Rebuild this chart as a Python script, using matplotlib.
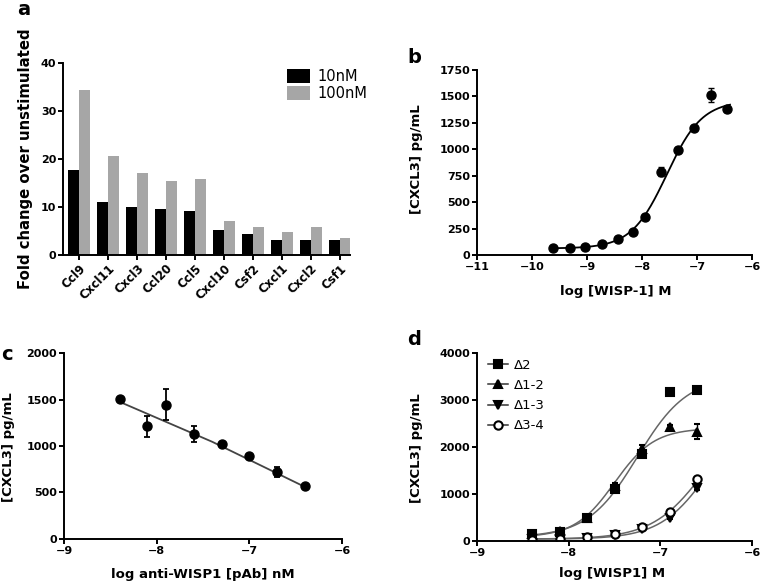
import numpy as np
import matplotlib
matplotlib.use("Agg")
import matplotlib.pyplot as plt

plt.rcParams["font.family"] = ["DejaVu Sans"]

# Panel a: fold change by gene
genes = ["Ccl9", "Cxcl11", "Cxcl3", "Ccl20", "Ccl5", "Cxcl10", "Csf2", "Cxcl1", "Cxcl2", "Csf1"]
fold_10nm = [17.7, 11.0, 10.1, 9.5, 9.2, 5.3, 4.4, 3.2, 3.2, 3.2]
fold_100nm = [34.3, 20.7, 17.1, 15.5, 15.9, 7.1, 5.9, 4.7, 5.9, 3.5]

# Panel b: WISP-1 dose response
b_logx = [-9.62, -9.31, -9.03, -8.72, -8.43, -8.16, -7.94, -7.66, -7.35, -7.05, -6.75, -6.45]
b_cxcl3 = [63, 65, 73, 100, 148, 214, 363, 788, 993, 1205, 1514, 1378]
b_err = [10, 10, 10, 12, 15, 18, 25, 45, 30, 25, 65, 25]
b_fit = [62, 1460, -7.55, 1.35]  # bottom, top, logEC50, hill

# Panel c: anti-WISP1 antibody
c_logx = [-8.4, -8.1, -7.9, -7.6, -7.3, -7.0, -6.7, -6.4]
c_cxcl3 = [1505, 1211, 1444, 1129, 1025, 889, 720, 570]
c_err = [15, 115, 165, 90, 20, 20, 55, 15]
c_line_x = [-8.4, -7.4, -6.4]
c_line_y = [1475, 1045, 560]

# Panel d: WISP1 deletion mutants
d_logx = [-8.4, -8.1, -7.8, -7.5, -7.2, -6.9, -6.6]
d_names = ["Δ2", "Δ1-2", "Δ1-3", "Δ3-4"]
d_vals = [
    [160, 200, 490, 1100, 1860, 3160, 3220],
    [140, 210, 480, 1170, 1960, 2430, 2330],
    [40, 35, 70, 120, 250, 500, 1130],
    [30, 50, 80, 140, 300, 620, 1310],
]
d_errs = [
    [20, 30, 40, 60, 60, 60, 50],
    [20, 30, 40, 60, 80, 40, 160],
    [10, 10, 10, 20, 20, 30, 50],
    [10, 10, 10, 20, 30, 40, 60],
]
d_fits = [
    [80, 3500, -7.25, 1.6],
    [80, 2400, -7.5, 2.0],
    [40, 3000, -6.45, 1.6],
    [40, 3000, -6.5, 1.5],
]
d_markers = ["s", "^", "v", "o"]


def four_pl(x, p):
    bottom, top, logec50, hill = p
    return bottom + (top - bottom) / (1 + 10 ** ((logec50 - x) * hill))


def style(ax):
    for s in ["top", "right"]:
        ax.spines[s].set_visible(False)
    for s in ["left", "bottom"]:
        ax.spines[s].set_linewidth(1.4)
    ax.tick_params(direction="out", length=3.5, width=1.4, pad=1.5, labelsize=8)
    for lab in ax.get_xticklabels() + ax.get_yticklabels():
        lab.set_fontweight("bold")


fig = plt.figure(figsize=(7.61, 5.83), dpi=100)

# ---- a ----
ax = fig.add_axes([0.0828, 0.5626, 0.3771, 0.3293])
pos = np.arange(len(genes))
w = 0.37
ax.bar(pos - w / 2, fold_10nm, w, color="black", label="10nM")
ax.bar(pos + w / 2, fold_100nm, w, color="#a6a6a6", label="100nM")
ax.set_xlim(-0.55, 9.35)
ax.set_ylim(0, 40)
ax.set_yticks([0, 10, 20, 30, 40])
ax.set_xticks(pos)
ax.set_xticklabels(genes, rotation=45, ha="right", rotation_mode="anchor")
style(ax)
for lab in ax.get_xticklabels():
    lab.set_fontsize(8.5)
ax.set_ylabel("Fold change over unstimulated", fontsize=10.7, fontweight="bold")
ax.yaxis.set_label_coords(-0.105, 0.5)
ax.legend(loc="upper left", bbox_to_anchor=(0.78, 0.97), frameon=False, fontsize=10.5,
          handlelength=1.6, handleheight=1.1, handletextpad=0.5, labelspacing=0.15,
          borderpad=0, borderaxespad=0)

# ---- b ----
ax = fig.add_axes([0.6268, 0.5626, 0.3614, 0.3173])
xs = np.linspace(b_logx[0], -6.4, 200)
ax.plot(xs, four_pl(xs, b_fit), color="black", lw=1.3)
ax.errorbar(b_logx, b_cxcl3, yerr=b_err, fmt="o", color="black", ms=6.5,
            capsize=2.5, elinewidth=1, capthick=1)
ax.set_xlim(-11, -6)
ax.set_ylim(0, 1750)
ax.set_xticks([-11, -10, -9, -8, -7, -6])
ax.set_yticks(np.arange(0, 1751, 250))
style(ax)
ax.set_ylabel("[CXCL3] pg/mL", fontsize=9.5, fontweight="bold")
ax.yaxis.set_label_coords(-0.196, 0.519)
ax.set_xlabel("log [WISP-1] M", fontsize=9.5, fontweight="bold")
ax.xaxis.set_label_coords(0.505, -0.162)

# ---- c ----
ax = fig.add_axes([0.0841, 0.0755, 0.3653, 0.3190])
ax.plot(c_line_x, c_line_y, color="#444444", lw=1.3)
ax.errorbar(c_logx, c_cxcl3, yerr=c_err, fmt="o", color="black", ms=6.5,
            capsize=2.5, elinewidth=1.3, capthick=1.3)
ax.set_xlim(-9, -6)
ax.set_ylim(0, 2000)
ax.set_xticks([-9, -8, -7, -6])
ax.set_yticks([0, 500, 1000, 1500, 2000])
style(ax)
ax.set_ylabel("[CXCL3] pg/mL", fontsize=9.5, fontweight="bold")
ax.yaxis.set_label_coords(-0.176, 0.495)
ax.set_xlabel("log anti-WISP1 [pAb] nM", fontsize=9.5, fontweight="bold")
ax.xaxis.set_label_coords(0.5, -0.156)

# ---- d ----
ax = fig.add_axes([0.6268, 0.0720, 0.3614, 0.3225])
xs = np.linspace(d_logx[0], d_logx[-1], 200)
for name, vals, errs, fit, m in zip(d_names, d_vals, d_errs, d_fits, d_markers):
    ax.plot(xs, four_pl(xs, fit), color="#666666", lw=1.1)
    face = "white" if m == "o" else "black"
    ax.errorbar(d_logx, vals, yerr=errs, fmt=m, color="black", mfc=face, mew=1.5,
                ms=6, capsize=2.5, elinewidth=1, capthick=1)
    ax.plot([], [], marker=m, color="#333333", mfc=face, mec="black", mew=1.5,
            ms=6, lw=1.1, label=name)
ax.set_xlim(-9, -6)
ax.set_ylim(0, 4000)
ax.set_xticks([-9, -8, -7, -6])
ax.set_yticks([0, 1000, 2000, 3000, 4000])
style(ax)
ax.set_ylabel("[CXCL3] pg/mL", fontsize=9.5, fontweight="bold")
ax.yaxis.set_label_coords(-0.196, 0.495)
ax.set_xlabel("log [WISP1] M", fontsize=9.5, fontweight="bold")
ax.xaxis.set_label_coords(0.49, -0.138)
ax.legend(loc="upper left", bbox_to_anchor=(0.04, 0.97), frameon=False, fontsize=9.5,
          handlelength=1.5, handletextpad=0.5, labelspacing=0.55,
          borderpad=0, borderaxespad=0)

# panel letters
fig.text(0.022, 0.974, "a", fontsize=14, fontweight="bold")
fig.text(0.535, 0.892, "b", fontsize=14, fontweight="bold")
fig.text(0.002, 0.3825, "c", fontsize=14, fontweight="bold")
fig.text(0.535, 0.408, "d", fontsize=14, fontweight="bold")

fig.savefig("out.png", dpi=100)
